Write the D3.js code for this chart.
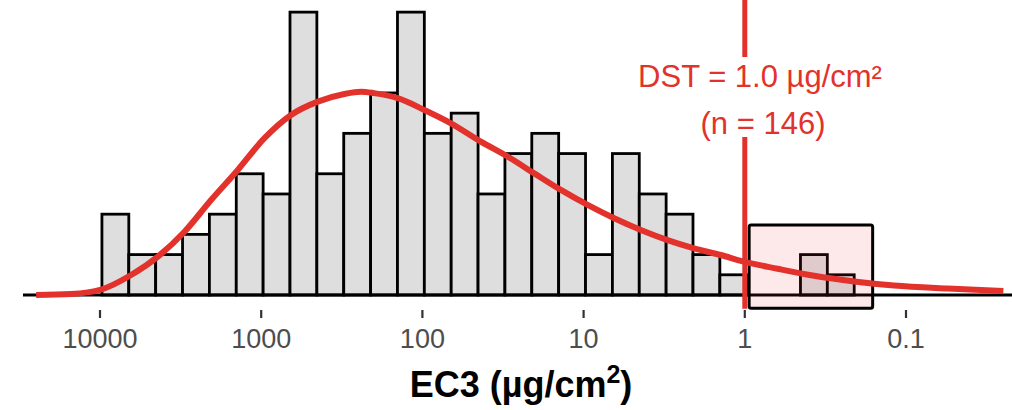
<!DOCTYPE html>
<html>
<head>
<meta charset="utf-8">
<script src="https://cdn.jsdelivr.net/npm/d3@7"></script>
<style>
body{margin:0;background:#fff;}
text{font-family:"Liberation Sans",Arial,sans-serif;}
</style>
</head>
<body>
<script>
// histogram counts, bins are 1/6 decade wide, starting at log10 = 3.988 (going down)
const counts = [4,2,2,3,4,6,5,14,6,8,10,14,8,9,5,7,8,7,2,7,5,4,2,1,0,0,2,1];
const binStart = 3.988, binW = 1/6;
// fitted density (log10 value, height in counts)
const curveLog  = [4.396,4.18,3.993,3.807,3.641,3.476,3.311,3.145,2.980,2.815,2.649,2.484,2.381,2.300,2.153,1.988,1.823,1.637,1.471,1.306,1.141,0.975,0.810,0.645,0.479,0.314,0.149,0.004,-0.203,-0.430,-0.678,-0.926,-1.257,-1.604];
const curveDens = [0.0,0.05,0.27,0.99,1.90,3.13,4.70,6.19,7.76,8.91,9.57,9.95,10.06,9.99,9.74,9.16,8.50,7.59,6.85,6.02,5.20,4.46,3.80,3.22,2.72,2.31,1.98,1.65,1.30,0.95,0.67,0.47,0.32,0.20];
const tickVals = [10000,1000,100,10,1,0.1];
const tickLabels = ['10000','1000','100','10','1','0.1'];
const dst = 1.0, nTotal = 146;
// highlight box (data units)
const boxX = [0.94, 0.161], boxY = [-0.66, 3.47];

let width = 1012, height = 410;
let red = '#e2322b';
let svg = d3.select('body').append('svg').attr('width',width).attr('height',height);

let x = d3.scaleLog().domain([10000,0.1]).range([100,906]);
let y = d3.scaleLinear().domain([0,14.6]).range([295,0]);

// bars
let bars = svg.append('g');
bars.selectAll('rect').data(counts).join('rect')
  .attr('x',(d,i)=>x(Math.pow(10,binStart-i*binW)))
  .attr('width',(d,i)=>x(Math.pow(10,binStart-(i+1)*binW))-x(Math.pow(10,binStart-i*binW)))
  .attr('y',d=>y(d)).attr('height',d=>y(0)-y(d))
  .attr('fill','#dedede').attr('stroke','#000').attr('stroke-width',2.8);

// baseline
svg.append('line').attr('x1',23).attr('x2',width).attr('y1',y(0)).attr('y2',y(0))
  .attr('stroke','#000').attr('stroke-width',3);

// highlight box
svg.append('rect')
  .attr('x',x(boxX[0])).attr('width',x(boxX[1])-x(boxX[0]))
  .attr('y',y(boxY[1])).attr('height',y(boxY[0])-y(boxY[1]))
  .attr('rx',2)
  .attr('fill','rgba(235,40,40,0.1)').attr('stroke','#000').attr('stroke-width',3);

// axis ticks
let ax = svg.append('g');
ax.selectAll('line').data(tickVals).join('line')
  .attr('x1',d=>x(d)).attr('x2',d=>x(d)).attr('y1',310).attr('y2',318)
  .attr('stroke','#333').attr('stroke-width',2.2);
ax.selectAll('text').data(tickVals).join('text')
  .attr('x',d=>x(d)).attr('y',348).attr('text-anchor','middle')
  .attr('font-size',27).attr('fill','#4d4d4d')
  .text((d,i)=>tickLabels[i]);

// threshold line
svg.append('line').attr('x1',x(dst)).attr('x2',x(dst)).attr('y1',0).attr('y2',y(-0.68))
  .attr('stroke',red).attr('stroke-width',5);

// density curve
let line = d3.line().x(d=>x(Math.pow(10,d[0]))).y(d=>y(d[1])).curve(d3.curveMonotoneX);
svg.append('path').datum(curveLog.map((v,i)=>[v,curveDens[i]]).reverse())
  .attr('d',line).attr('fill','none').attr('stroke',red).attr('stroke-width',6)
  .attr('stroke-linecap','butt');

// label (white background breaks the line)
svg.append('rect').attr('x',630).attr('y',57).attr('width',262).attr('height',80).attr('fill','#fff');
svg.append('text').attr('x',760).attr('y',87).attr('text-anchor','middle')
  .attr('font-size',31).attr('fill',red).text('DST = '+dst.toFixed(1)+' µg/cm²');
svg.append('text').attr('x',763).attr('y',134).attr('text-anchor','middle')
  .attr('font-size',31).attr('fill',red).text('(n = '+nTotal+')');

// x title
let t = svg.append('text').attr('x',521).attr('y',397).attr('text-anchor','middle')
  .attr('font-size',36).attr('font-weight','bold').attr('fill','#000');
t.append('tspan').text('EC3 (µg/cm');
t.append('tspan').attr('font-size',25).attr('dy',-14).text('2');
t.append('tspan').attr('dy',14).text(')');
</script>
</body>
</html>
